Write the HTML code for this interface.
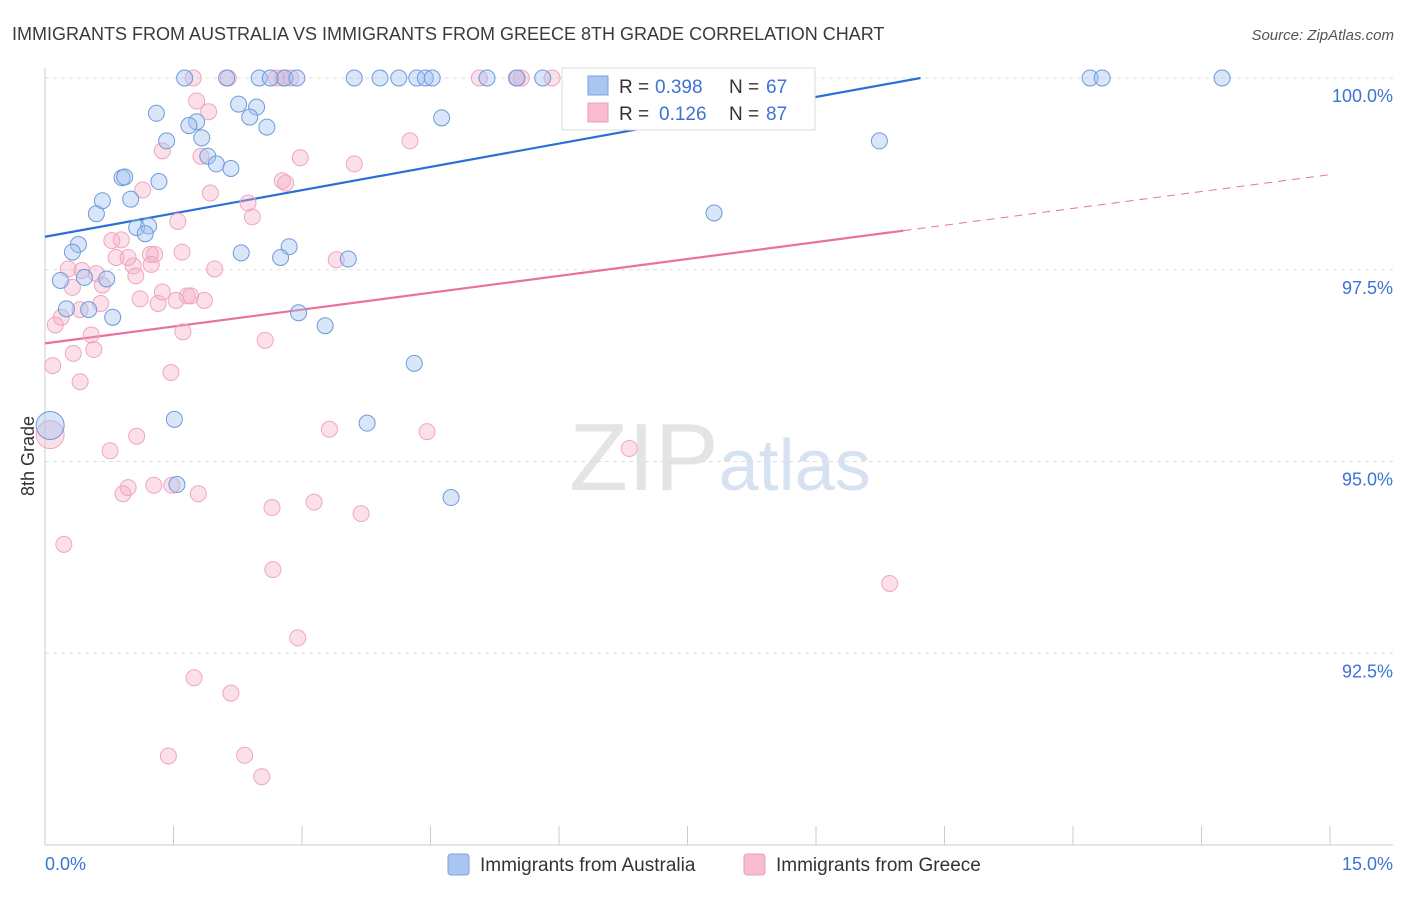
<!DOCTYPE html>
<html><head><meta charset="utf-8"><style>
body{margin:0;background:#fff;font-family:"Liberation Sans",sans-serif;}
svg text{font-family:"Liberation Sans",sans-serif;}
</style></head><body>
<svg id="chart" width="1406" height="892" xmlns="http://www.w3.org/2000/svg">
<text x="12" y="40" font-size="18" fill="#3a3a3a">IMMIGRANTS FROM AUSTRALIA VS IMMIGRANTS FROM GREECE 8TH GRADE CORRELATION CHART</text>
<text x="1394" y="40" font-size="15" fill="#555" text-anchor="end" font-style="italic">Source: ZipAtlas.com</text>
<text x="720" y="490" font-size="96" fill="#e4e4e4" text-anchor="middle" font-family="Liberation Serif">ZIP<tspan fill="#d6e2f2" font-family="Liberation Sans" font-size="72">atlas</tspan></text>
<text x="34" y="456" font-size="18" fill="#333" text-anchor="middle" transform="rotate(-90 34 456)">8th Grade</text>
<g id="grid"></g><g id="axes"></g><g id="trend"></g><g id="pts"></g>
<g>
<rect x="562" y="68" width="253" height="62" fill="#fff" stroke="#ddd"/>
<rect x="588" y="76" width="20" height="19" fill="#a9c6f1" stroke="#7aa3e0"/>
<text x="619" y="93" font-size="19" fill="#333">R =</text>
<text x="655" y="93" font-size="19" fill="#3b73d6">0.398</text>
<text x="729" y="93" font-size="19" fill="#333">N =</text>
<text x="766" y="93" font-size="19" fill="#3b73d6">67</text>
<rect x="588" y="103" width="20" height="19" fill="#f7bcd1" stroke="#ee9fbc"/>
<text x="619" y="120" font-size="19" fill="#333">R =</text>
<text x="659" y="120" font-size="19" fill="#3b73d6">0.126</text>
<text x="729" y="120" font-size="19" fill="#333">N =</text>
<text x="766" y="120" font-size="19" fill="#3b73d6">87</text>
</g>
<g>
<rect x="448" y="854" width="21" height="21" rx="3" fill="#a9c6f1" stroke="#7aa3e0"/>
<text x="480" y="871" font-size="19" fill="#333">Immigrants from Australia</text>
<rect x="744" y="854" width="21" height="21" rx="3" fill="#f7bcd1" stroke="#ee9fbc"/>
<text x="776" y="871" font-size="19" fill="#333">Immigrants from Greece</text>
</g>
</svg>
<script>
const yTicks=[100,97.5,95,92.5];
const yTickLabels=["100.0%","97.5%","95.0%","92.5%"];
const xTickLabels=["0.0%","15.0%"];
const blueX=[1.63,2.12,2.50,2.63,2.80,2.94,3.61,3.91,4.13,4.34,4.44,4.52,5.16,5.51,5.81,6.24,12.20,12.34,13.74,1.30,2.26,2.47,2.39,1.77,1.68,2.59,1.42,1.83,1.90,2.00,2.17,4.63,9.74,0.90,0.93,1.33,0.67,1.00,0.60,7.81,1.07,1.21,1.17,0.39,0.32,2.85,2.29,2.75,3.54,0.18,0.46,0.72,0.25,0.51,0.79,2.96,3.27,4.31,0.06,1.51,3.76,1.54,4.74];
const blueY=[100,100,100,100,100,100,100,100,100,100,100,100,100,100,100,100,100,100,100,99.54,99.66,99.62,99.49,99.43,99.38,99.36,99.18,99.22,98.98,98.88,98.82,99.48,99.18,98.70,98.71,98.65,98.40,98.42,98.23,98.24,98.05,98.07,97.97,97.83,97.73,97.80,97.72,97.66,97.64,97.36,97.40,97.38,96.99,96.98,96.88,96.94,96.77,96.28,95.47,95.55,95.50,94.70,94.53];
const blueBig=[58];
const pinkX=[1.73,2.14,2.70,2.77,2.87,5.07,5.50,5.56,5.92,1.77,1.91,4.26,1.37,1.82,2.98,3.61,1.93,1.14,2.77,2.81,2.37,2.42,1.55,0.78,0.89,0.83,0.97,1.23,1.28,1.60,1.24,1.03,1.98,0.27,0.43,0.60,1.06,0.32,0.67,1.11,1.37,1.66,1.86,1.32,1.53,1.70,0.41,0.65,0.19,0.12,0.54,1.61,0.57,0.33,2.57,3.40,0.09,0.41,1.47,3.32,4.46,1.07,0.76,6.82,0.06,1.27,0.97,0.91,1.48,1.79,2.65,3.14,3.69,0.22,2.66,9.86,2.95,1.74,2.17,1.44,2.33,2.53];
const pinkY=[100,100,100,100,100,100,100,100,100,99.70,99.56,99.18,99.05,98.98,98.96,98.88,98.50,98.54,98.66,98.63,98.37,98.19,98.13,97.88,97.89,97.66,97.66,97.70,97.70,97.73,97.57,97.55,97.51,97.51,97.49,97.45,97.42,97.27,97.30,97.12,97.21,97.16,97.10,97.06,97.10,97.16,96.98,97.06,96.88,96.78,96.65,96.69,96.46,96.41,96.58,97.63,96.25,96.04,96.16,95.42,95.39,95.33,95.14,95.17,95.35,94.69,94.66,94.58,94.69,94.58,94.40,94.47,94.32,93.92,93.59,93.41,92.70,92.18,91.98,91.16,91.17,90.89];
const pinkBig=[64];
const blueTrend=[97.93,100.0]; const blueTrendX=[0,10.22];
const pinkTrend=[96.54,98.74]; const pinkTrendSolidEnd=10.02;
const X0=45,X1=1330,Y0=78,Y1=845;
const sx=v=>X0+v/15*(X1-X0);
const sy=v=>Y0+(100-v)/10*(Y1-Y0);
const NS="http://www.w3.org/2000/svg";
function mk(tag,attrs,parent){const e=document.createElementNS(NS,tag);for(const k in attrs)e.setAttribute(k,attrs[k]);document.getElementById(parent).appendChild(e);return e;}
yTicks.forEach((t,i)=>{
 const l=mk('line',{x1:X0,x2:1393,y1:sy(t),y2:sy(t),stroke:'#ddd','stroke-dasharray':'4 4'},'grid');
 
 
 const tx=mk('text',{x:1393,y:sy(t)+24,'font-size':18,fill:'#3b73d6','text-anchor':'end'},'grid');
 tx.textContent=yTickLabels[i];
 
 
});
const ax=mk('line',{x1:X0,x2:X0,y1:68,y2:Y1,stroke:'#ccc'},'axes');


const bx=mk('line',{x1:X0,x2:1393,y1:Y1,y2:Y1,stroke:'#ccc'},'axes');


for(let i=0;i<=10;i++){const t=mk('line',{x1:sx(i*1.5),x2:sx(i*1.5),y1:826,y2:Y1,stroke:'#ccc'},'axes');
 
 }
[[0,'start',xTickLabels[0]],[15,'end',xTickLabels[1]]].forEach(([v,a,s])=>{
 const t=mk('text',{x:v==0?sx(v):1393,y:870,'font-size':18,fill:'#3b73d6','text-anchor':a},'axes');t.textContent=s;
 
 });
function pts(xs,ys,big,fill,stroke,name){xs.forEach((x,i)=>{
 const r=big.includes(i)?14:8;
 const c=mk('circle',{cx:sx(x),cy:sy(ys[i]),r:r,fill:fill,stroke:stroke,'stroke-width':1},'pts');
 
 });}
pts(pinkX,pinkY,pinkBig,'rgba(244,165,195,0.35)','#f0a6c1','point-greece');
pts(blueX,blueY,blueBig,'rgba(160,192,242,0.4)','#6f9ada','point-australia');
const bl=mk('line',{x1:sx(blueTrendX[0]),y1:sy(blueTrend[0]),x2:sx(blueTrendX[1]),y2:sy(blueTrend[1]),stroke:'#2b6fd6','stroke-width':2.2},'trend');


const pAt=x=>pinkTrend[0]+(pinkTrend[1]-pinkTrend[0])*x/15;
const pl=mk('line',{x1:sx(0),y1:sy(pAt(0)),x2:sx(pinkTrendSolidEnd),y2:sy(pAt(pinkTrendSolidEnd)),stroke:'#e8729c','stroke-width':2.2},'trend');


const pd=mk('line',{x1:sx(pinkTrendSolidEnd),y1:sy(pAt(pinkTrendSolidEnd)),x2:sx(15),y2:sy(pAt(15)),stroke:'#e8729c','stroke-width':1,'stroke-dasharray':'8 6'},'trend');


</script>
</body></html>
